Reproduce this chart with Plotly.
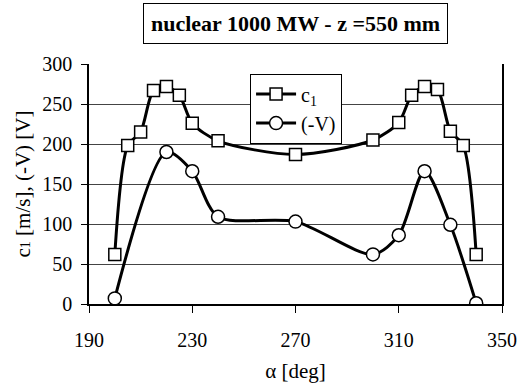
import plotly.graph_objects as go

alpha_c1 = [200, 205, 210, 215, 220, 225, 230, 240, 270, 300, 310, 315, 320, 325, 330, 335, 340]
c1 = [62, 198, 215, 267, 272, 261, 226, 204, 187, 205, 227, 261, 272, 268, 216, 198, 62]

alpha_v = [200, 220, 230, 240, 270, 300, 310, 320, 330, 340]
minus_v = [7, 190, 166, 109, 103, 62, 86, 166, 99, 1]

x_ticks = [190, 230, 270, 310, 350]
y_ticks = [0, 50, 100, 150, 200, 250, 300]

FONT = "Liberation Serif"

fig = go.Figure()
fig.add_trace(go.Scatter(
    x=alpha_c1, y=c1, mode="lines+markers", name="c<sub>1</sub>",
    line=dict(color="black", width=3, shape="spline", smoothing=0.8),
    marker=dict(symbol="square", size=12, color="white", line=dict(color="black", width=1.5)),
))
fig.add_trace(go.Scatter(
    x=alpha_v, y=minus_v, mode="lines+markers", name="(-V)",
    line=dict(color="black", width=3, shape="spline", smoothing=0.8),
    marker=dict(symbol="circle", size=13, color="white", line=dict(color="black", width=1.5)),
))

fig.update_layout(
    width=529, height=390,
    margin=dict(l=89, r=27, t=64, b=86),
    paper_bgcolor="white", plot_bgcolor="white",
    font=dict(family=FONT, size=20, color="black"),
    showlegend=True,
    legend=dict(x=0.39, y=0.96, xanchor="left", yanchor="top",
                bordercolor="black", borderwidth=1, bgcolor="white",
                font=dict(family=FONT, size=20), tracegroupgap=0, itemwidth=40),
    annotations=[dict(
        text="<b>nuclear 1000 MW - z =550 mm</b>", xref="paper", yref="paper",
        x=0.5, y=1.0, yshift=41, xanchor="center", yanchor="middle", showarrow=False,
        font=dict(family=FONT, size=22, color="black"),
        bordercolor="black", borderwidth=1, borderpad=7, bgcolor="white",
    )],
)

fig.update_xaxes(
    range=[190, 350], tickvals=x_ticks, ticktext=[str(v) for v in x_ticks],
    showgrid=False, zeroline=False,
    showline=True, linecolor="black", linewidth=1.5,
    ticks="outside", ticklen=7, tickcolor="black", tickwidth=1,
    tickfont=dict(family=FONT, size=20), ticklabelstandoff=10,
    title=dict(text="α [deg]", font=dict(family=FONT, size=21), standoff=14),
)
fig.update_yaxes(
    range=[0, 300], tickvals=y_ticks, ticktext=[str(v) for v in y_ticks],
    showgrid=True, gridcolor="#444444", gridwidth=1, zeroline=False,
    showline=True, linecolor="black", linewidth=1.5, mirror=True,
    ticks="outside", ticklen=6, tickcolor="black", tickwidth=1,
    tickfont=dict(family=FONT, size=20), ticklabelstandoff=5,
    title=dict(text="c<span style='font-size:14px'>1</span> [m/s], (-V) [V]",
               font=dict(family=FONT, size=21), standoff=6),
)

fig.write_html("out.html")
